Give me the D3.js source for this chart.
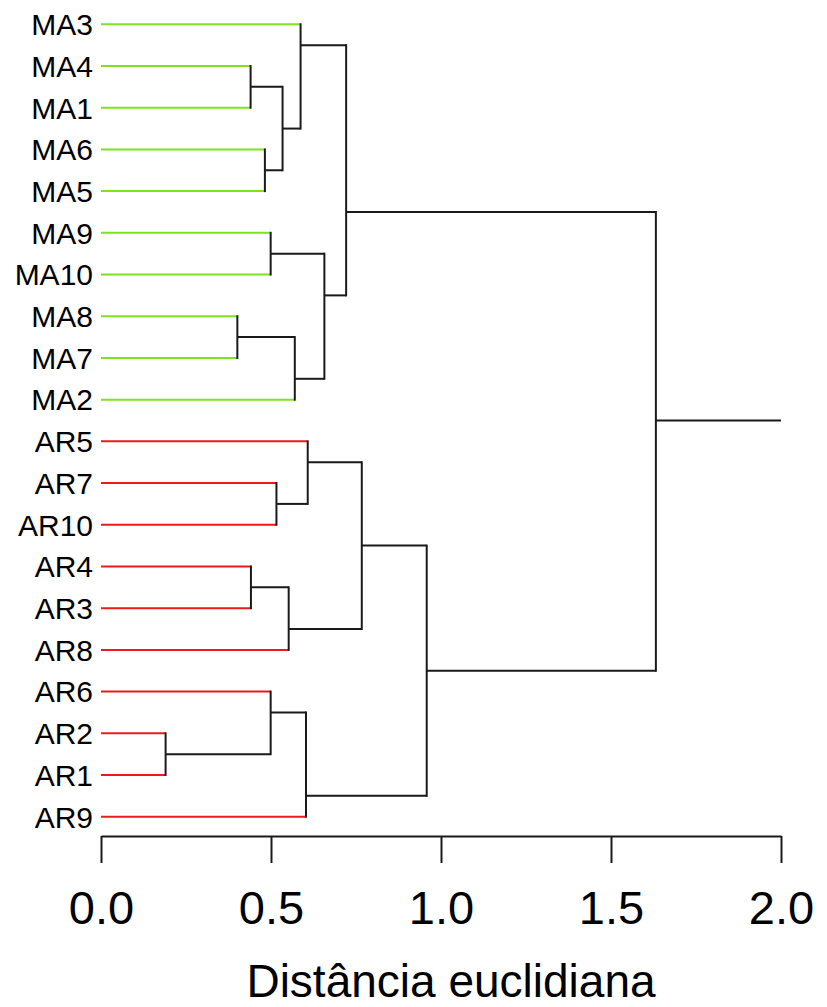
<!DOCTYPE html>
<html>
<head>
<meta charset="utf-8">
<script src="https://cdn.jsdelivr.net/npm/d3@7"></script>
<style>
  body { margin: 0; background: #fff; }
  text { font-family: "Liberation Sans", Arial, sans-serif; fill: #000; }
</style>
</head>
<body>
<div id="chart"></div>
<script>
// leaf order, top to bottom
const labels = ["MA3", "MA4", "MA1", "MA6", "MA5", "MA9", "MA10", "MA8", "MA7", "MA2",
                "AR5", "AR7", "AR10", "AR4", "AR3", "AR8", "AR6", "AR2", "AR1", "AR9"]

// group colours by prefix
const groupColors = { MA: "#7ee21c", AR: "#ec1a1a" }

// merges, hclust style: a leaf name or a (1-based) earlier merge number, then the height
const mergeLeft   = ["AR2", "MA8", "MA4", "AR4", "MA6", "MA9", "AR6", "AR7", 3, 4, 2, "MA3", 7, "AR5", 6, 12, 14, 17, 16]
const mergeRight  = ["AR1", "MA7", "MA1", "AR3", "MA5", "MA10", 1, "AR10", 5, "AR8", "MA2", 9, "AR9", 8, 11, 15, 10, 13, 18]
const mergeHeight = [0.190, 0.401, 0.440, 0.441, 0.482, 0.499, 0.499, 0.516, 0.534, 0.552,
                     0.570, 0.587, 0.603, 0.608, 0.657, 0.721, 0.767, 0.958, 1.632]

// axis
const tickValues = [0, 0.5, 1.0, 1.5, 2.0]
const axisTitle = "Distância euclidiana"

const width = 827
const height = 1007

let svg = d3.select("#chart")
    .append("svg")
    .attr("width", width)
    .attr("height", height)

let x = d3.scaleLinear().domain([0, 2]).range([101, 781])
let y = d3.scaleLinear().domain([0, labels.length - 1]).range([24.3, 816.7])

// build the tree nodes
let leafIndex = {}
labels.forEach((l, i) => leafIndex[l] = i)

let nodes = mergeHeight.map(() => null)
function getChild(c) {
    if (typeof c === "string") {
        let i = leafIndex[c]
        return { leaf: true, name: c, h: 0, first: i, last: i, y: y(i),
                 color: groupColors[c.replace(/\d+/g, "")] }
    }
    return nodes[c - 1]
}
mergeHeight.forEach((h, k) => {
    let a = getChild(mergeLeft[k]), b = getChild(mergeRight[k])
    // node sits on the boundary between its two children
    let pos = (a.last + b.first) / 2
    nodes[k] = { leaf: false, h: h, children: [a, b], first: a.first, last: b.last,
                 y: y(pos), color: "#1a1a1a" }
})
let root = nodes[nodes.length - 1]

// collect the segments
let horiz = []
let vert = []
function walk(n) {
    if (n.leaf) return
    n.children.forEach(c => {
        horiz.push({ x1: x(c.h), x2: x(n.h), y: c.y, color: c.color })
        walk(c)
    })
    vert.push({ x: x(n.h), y1: n.children[0].y, y2: n.children[1].y })
}
walk(root)
horiz.push({ x1: x(root.h), x2: x(x.domain()[1]), y: root.y, color: "#1a1a1a" })

svg.selectAll(".hseg")
    .data(horiz)
    .enter().append("line")
    .attr("class", "hseg")
    .attr("x1", d => d.x1)
    .attr("x2", d => d.x2)
    .attr("y1", d => d.y)
    .attr("y2", d => d.y)
    .attr("stroke", d => d.color)
    .attr("stroke-width", 2)

svg.selectAll(".vseg")
    .data(vert)
    .enter().append("line")
    .attr("class", "vseg")
    .attr("x1", d => d.x)
    .attr("x2", d => d.x)
    .attr("y1", d => d.y1 - 1)
    .attr("y2", d => d.y2 + 1)
    .attr("stroke", "#1a1a1a")
    .attr("stroke-width", 2)

// leaf labels
svg.selectAll(".leaf-label")
    .data(labels)
    .enter().append("text")
    .attr("class", "leaf-label")
    .attr("x", 93)
    .attr("y", (d, i) => y(i) + 10.8)
    .attr("text-anchor", "end")
    .style("font-size", "30px")
    .text(d => d)

// x axis
let axis = svg.append("g")
    .attr("transform", "translate(0, 836)")
    .call(d3.axisBottom(x)
        .tickValues(tickValues)
        .tickFormat(d3.format(".1f"))
        .tickSize(27)
        .tickSizeOuter(0))

axis.select(".domain").attr("stroke", "#1a1a1a").attr("stroke-width", 2)
axis.selectAll(".tick line").attr("stroke", "#1a1a1a").attr("stroke-width", 2)
axis.selectAll(".tick text")
    .attr("y", 88)
    .attr("dy", 0)
    .style("font-size", "47px")
    .style("font-family", "'Liberation Sans', Arial, sans-serif")
    .attr("fill", "#000")

svg.append("text")
    .attr("x", 451)
    .attr("y", 997)
    .attr("text-anchor", "middle")
    .style("font-size", "46px")
    .text(axisTitle)
</script>
</body>
</html>
